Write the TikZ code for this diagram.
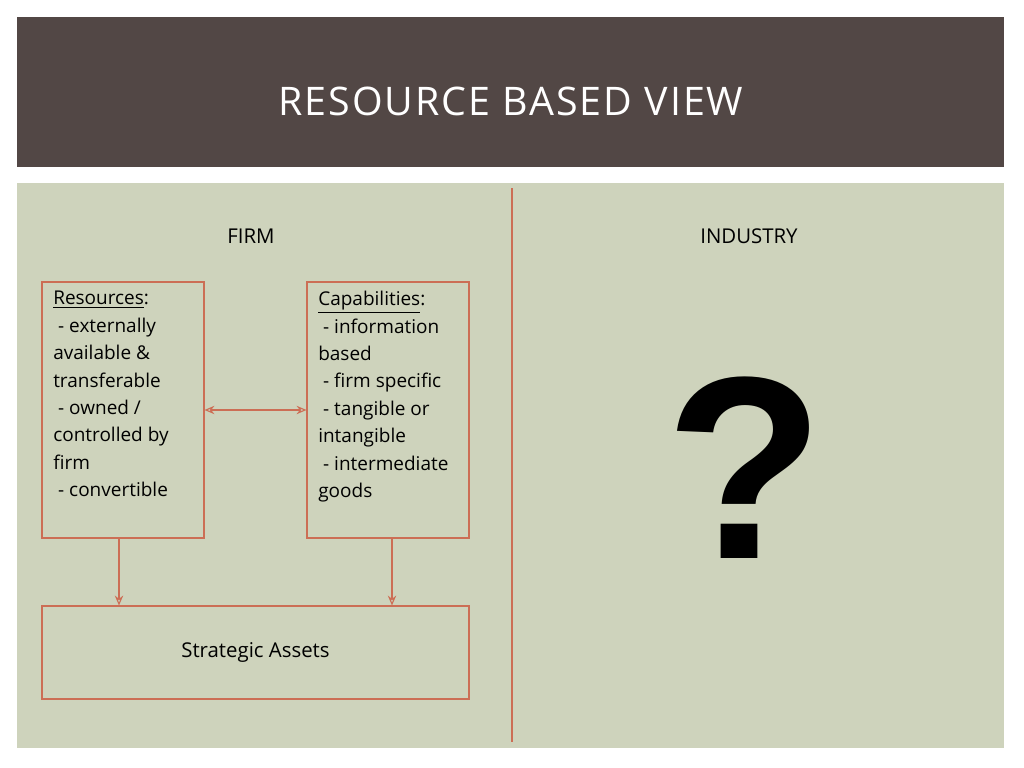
\documentclass[tikz,border=0pt]{standalone}
\usepackage{fontspec}
\setmainfont{Open Sans}
\newfontfamily\titlefont[LetterSpace=5]{Open Sans}
\newfontfamily\qfont{Liberation Sans}
\usetikzlibrary{positioning}
\usetikzlibrary{arrows.meta}
\definecolor{headbrown}{HTML}{524745}
\definecolor{panelgreen}{HTML}{CED3BC}
\definecolor{rustline}{HTML}{CC6E55}
\tikzset{
  listbox/.style={draw=rustline, thick, minimum width=162*0.025cm, minimum height=256*0.025cm},
  listtext/.style={anchor=north west, inner sep=0pt, align=left,
    font=\fontsize{13.5}{19.5}\selectfont},
  link/.style={draw=rustline, thick, -{Stealth[length=7pt,width=6pt,open]}},
}
\begin{document}
\begin{tikzpicture}[x=0.025cm, y=-0.025cm]
				\useasboundingbox (0,0) rectangle (1024,768);
				\fill[headbrown] (17,17) rectangle (1004,167);
				\fill[panelgreen] (17,183) rectangle (1004,748);
				\node[text=white, font=\titlefont\fontsize{28}{30}\selectfont] (title) at (511,101) {RESOURCE BASED VIEW};
				\draw[rustline, thick] (512,188) -- (512,742);

				\node[font=\fontsize{14.5}{18}\selectfont] (firm) at (251,236) {FIRM};
				\node[font=\fontsize{14.5}{18}\selectfont] (industry) at (749,236) {INDUSTRY};

				\node[listbox] (res) at (123,410) {};
				\node[listbox] (cap) at (388,410) {};
				\node[draw=rustline, thick, minimum width=427*0.025cm, minimum height=93*0.025cm,
				  inner sep=0pt, font=\fontsize{14.5}{18}\selectfont] (assets) at (255.5,652.5) {Strategic Assets};

				\node[listtext] (restext) at (53,291) {\underline{Resources}:\\
				  \ - externally\\ available \&\\ transferable\\
				  \ - owned /\\ controlled by\\ firm\\
				  \ - convertible};
				\node[listtext] (captext) at (318,291) {\underline{Capabilities}:\\
				  \ - information\\ based\\
				  \ - firm specific\\
				  \ - tangible or\\ intangible\\
				  \ - intermediate\\ goods};

				\draw[link, {Stealth[length=7pt,width=6pt,open]}-{Stealth[length=7pt,width=6pt,open]}] (res.east) -- (cap.west);
				\draw[link] (res.south -| 119,0) -- (assets.north -| 119,0);
				\draw[link] (cap.south -| 392,0) -- (assets.north -| 392,0);

				\node[font=\qfont\bfseries\fontsize{185}{185}\selectfont] (query) at (745,468) {?};
			\end{tikzpicture}
\end{document}
